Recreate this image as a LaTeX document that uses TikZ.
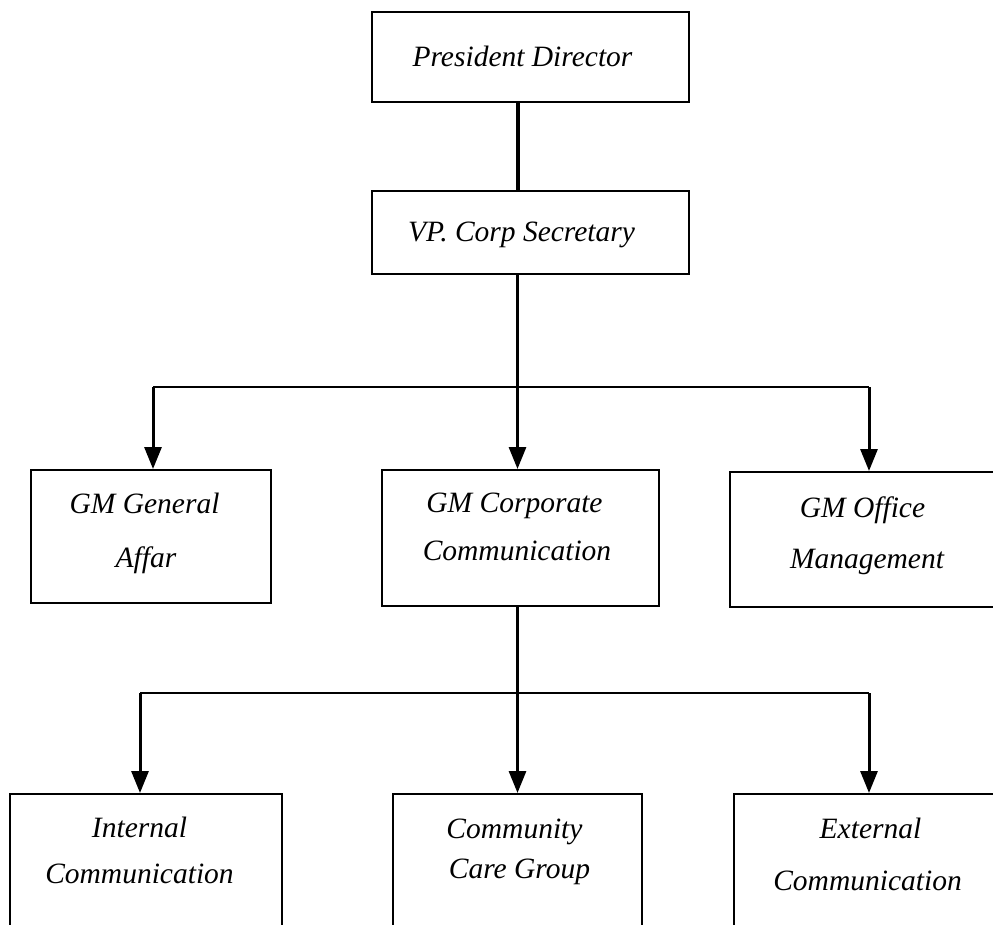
\documentclass[tikz,border=0pt]{standalone}
\usepackage{fontspec}
\setmainfont{Liberation Serif}
\usetikzlibrary{arrows.meta}
\begin{document}
\begin{tikzpicture}[x=1pt,y=-1pt,
  box/.style={draw=black, line width=2.3pt, rectangle, inner sep=0pt, outer sep=0pt},
  lbl/.style={anchor=base, inner sep=0pt, font=\fontsize{29.5}{35}\selectfont\itshape},
  conn/.style={draw=black, line width=3pt},
  thickconn/.style={draw=black, line width=4pt},
  arr/.style={draw=black, line width=3pt, -{Triangle[width=17pt,length=22pt]}, shorten >=1pt}
]
\useasboundingbox (0,0) rectangle (993,925);
\clip (0,0) rectangle (993,925);
\fill[white] (0,0) rectangle (993,925);

% boxes
\node[box, minimum width=317pt, minimum height=90pt] (pd) at (530.5,57) {};
\node[box, minimum width=317pt, minimum height=83pt] (vp) at (530.5,232.5) {};
\node[box, minimum width=240pt, minimum height=133pt] (gg) at (151,536.5) {};
\node[box, minimum width=277pt, minimum height=136pt] (gc) at (520.5,538) {};
\node[box, minimum width=273pt, minimum height=135pt] (go) at (866.5,539.5) {};
\node[box, minimum width=272pt, minimum height=206pt] (ic) at (146,897) {};
\node[box, minimum width=249pt, minimum height=206pt] (cc) at (517.5,897) {};
\node[box, minimum width=270pt, minimum height=206pt] (ec) at (869,897) {};

% texts
\node[lbl] (tpd) at (522.5,67) {President Director};
\node[lbl] (tvp) at (521.5,242) {VP. Corp Secretary};
\node[lbl] (tgg1) at (144.5,513) {GM General};
\node[lbl] (tgg2) at (146,567) {Affar};
\node[lbl] (tgc1) at (514.5,512) {GM Corporate};
\node[lbl] (tgc2) at (517,560) {Communication};
\node[lbl] (tgo1) at (862.5,517) {GM Office};
\node[lbl] (tgo2) at (867,568) {Management};
\node[lbl] (tic1) at (139.5,837) {Internal};
\node[lbl] (tic2) at (139.5,883) {Communication};
\node[lbl] (tcc1) at (514.5,838) {Community};
\node[lbl] (tcc2) at (519.5,878) {Care Group};
\node[lbl] (tec1) at (870.5,838) {External};
\node[lbl] (tec2) at (867.5,890) {Communication};

% junction coordinates
\coordinate (h1) at (517.5,387);
\coordinate (h1l) at (153,387);
\coordinate (h1r) at (869,387);
\coordinate (h2) at (517.5,693);
\coordinate (h2l) at (140,693);
\coordinate (h2r) at (869,693);

% connectors
\draw[thickconn] (pd.south -| h1) -- (vp.north -| h1);
\draw[conn] (vp.south -| h1) -- (h1);
\draw[conn, line width=2.5pt] (h1l) -- (h1r);
\draw[arr] (h1l) -- (h1l |- gg.north);
\draw[arr] (h1) -- (h1 |- gc.north);
\draw[arr] (h1r) -- (h1r |- go.north);

\draw[conn] (gc.south -| h2) -- (h2);
\draw[conn, line width=2.5pt] (h2l) -- (h2r);
\draw[arr] (h2l) -- (h2l |- ic.north);
\draw[arr] (h2) -- (h2 |- cc.north);
\draw[arr] (h2r) -- (h2r |- ec.north);
\end{tikzpicture}
\end{document}
